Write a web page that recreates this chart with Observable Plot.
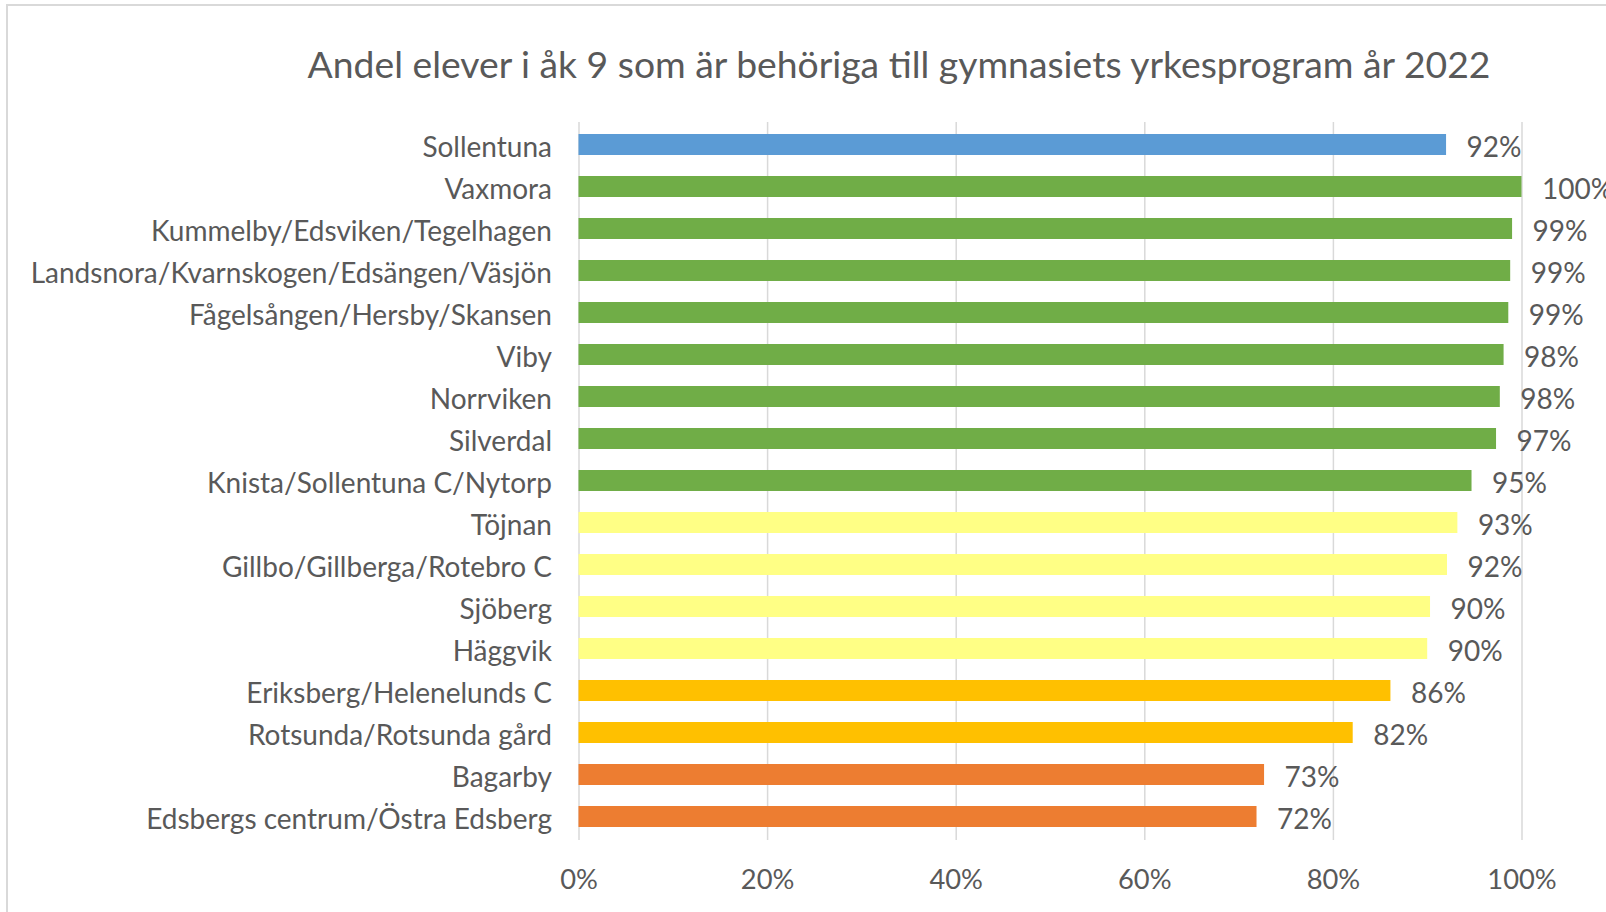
<!DOCTYPE html>
<html>
<head>
<meta charset="utf-8">
<script src="https://cdn.jsdelivr.net/npm/d3@7"></script>
<script src="https://cdn.jsdelivr.net/npm/@observablehq/plot@0.6"></script>
<style>
  html, body { margin: 0; padding: 0; background: #ffffff; width: 1606px; height: 912px; overflow: hidden; }
  #frame { position: absolute; left: 6px; top: 4px; width: 1700px; height: 1000px; border: 2px solid #d9d9d9; box-sizing: border-box; }
  #title { position: absolute; left: 0; width: 1798px; top: 42px; text-align: center; font-family: Lato, sans-serif; font-size: 37.3px; color: #595959; white-space: nowrap; line-height: 1.2; }
  #chart { position: absolute; left: 0; top: 0; }
</style>
</head>
<body>
<div id="frame"></div>
<div id="title">Andel elever i åk 9 som är behöriga till gymnasiets yrkesprogram år 2022</div>
<div id="chart"></div>
<script>
const categories = [
  "Sollentuna",
  "Vaxmora",
  "Kummelby/Edsviken/Tegelhagen",
  "Landsnora/Kvarnskogen/Edsängen/Väsjön",
  "Fågelsången/Hersby/Skansen",
  "Viby",
  "Norrviken",
  "Silverdal",
  "Knista/Sollentuna C/Nytorp",
  "Töjnan",
  "Gillbo/Gillberga/Rotebro C",
  "Sjöberg",
  "Häggvik",
  "Eriksberg/Helenelunds C",
  "Rotsunda/Rotsunda gård",
  "Bagarby",
  "Edsbergs centrum/Östra Edsberg"
];
const values = [92.0, 100, 99.0, 98.8, 98.6, 98.1, 97.7, 97.3, 94.7, 93.2, 92.1, 90.3, 90.0, 86.1, 82.1, 72.7, 71.9];
const groups = ["kommun", "95-100", "95-100", "95-100", "95-100", "95-100", "95-100", "95-100", "95-100",
  "90-94", "90-94", "90-94", "90-94", "80-89", "80-89", "under80", "under80"];
const groupDomain = ["kommun", "95-100", "90-94", "80-89", "under80"];
const xTicks = [0, 20, 40, 60, 80, 100];

const data = categories.map((c, i) => ({cat: c, value: values[i], group: groups[i]}));
const pct = d => d + "%";

const chart = Plot.plot({
  width: 1606,
  height: 912,
  marginLeft: 578.5,
  marginRight: 84.5,
  marginTop: 122,
  marginBottom: 72,
  style: {fontFamily: "Lato, sans-serif", color: "#595959", background: "transparent", overflow: "visible"},
  x: {domain: [0, 100], ticks: xTicks, tickFormat: pct, label: null},
  y: {domain: categories, paddingInner: 0.49, paddingOuter: 0.24, label: null},
  color: {domain: groupDomain, range: ["#5b9bd5", "#70ad47", "#ffff85", "#ffc000", "#ed7d31"]},
  marks: [
    Plot.gridX(xTicks, {stroke: "#d9d9d9", strokeOpacity: 1, strokeWidth: 1.5}),
    Plot.barX(data, {y: "cat", x: "value", fill: "group"}),
    Plot.text(data, {y: "cat", x: "value", text: d => Math.round(d.value) + "%", dx: 20, dy: 3,
      textAnchor: "start", fontSize: 28, fill: "#595959"}),
    Plot.axisY({tickSize: 0, tickPadding: 27, fontSize: 28, dy: 3, fill: "#595959"}),
    Plot.axisX({ticks: xTicks, tickFormat: pct, tickSize: 0, tickPadding: 29, fontSize: 27.3, fill: "#595959"})
  ]
});
document.getElementById("chart").appendChild(chart);
</script>
</body>
</html>
